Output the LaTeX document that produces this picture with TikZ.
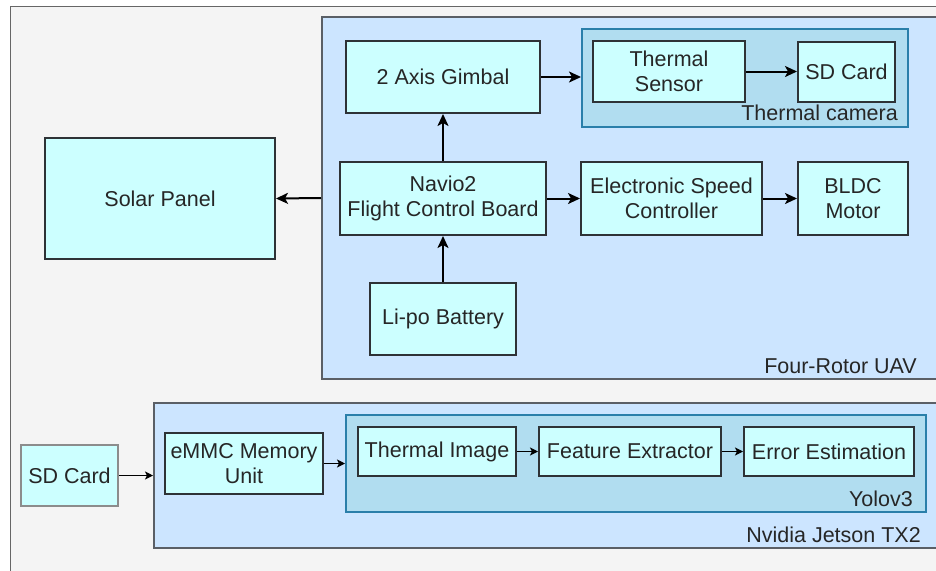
\documentclass[tikz,border=0pt]{standalone}
\usepackage{fontspec}
\setmainfont{Liberation Sans}
\usetikzlibrary{arrows.meta}
\definecolor{bgfill}{HTML}{F4F4F4}
\definecolor{bgline}{HTML}{666666}
\definecolor{grpfill}{HTML}{CCE5FF}
\definecolor{grpline}{HTML}{5A5F66}
\definecolor{subfill}{HTML}{B1DDF0}
\definecolor{subline}{HTML}{2A7FAA}
\definecolor{boxfill}{HTML}{CCFFFF}
\definecolor{boxline}{HTML}{2E3236}
\definecolor{txt}{HTML}{262626}
\definecolor{grayline}{HTML}{8C8C8C}
\begin{document}
\begin{tikzpicture}[x=1pt,y=-1pt,
  lbl/.style={font=\fontsize{21.5}{25}\selectfont, text=txt, inner sep=0pt},
  blockbox/.style={draw=boxline, fill=boxfill, line width=2pt, inner sep=0pt, align=center,
    font=\fontsize{21.5}{25}\selectfont, text=txt},
  grp/.style={draw=grpline, fill=grpfill, line width=2pt, inner sep=0pt},
  subgrp/.style={draw=subline, fill=subfill, line width=2pt, inner sep=0pt},
  bigarrow/.style={line width=2pt, draw=black, -{Stealth[length=12pt,width=11pt,inset=3pt]}},
  smallarrow/.style={line width=1.2pt, draw=black, -{Stealth[length=8pt,width=8pt,inset=2pt]}}
]
\useasboundingbox (0,0) rectangle (936,570);
\clip (0,0) rectangle (936,570);
\fill[white] (0,0) rectangle (936,570);
\draw[fill=bgfill, draw=bgline, line width=1pt] (10,6) rectangle (960,600);

% groups
\node[grp, minimum width=640pt, minimum height=362pt] (uav) at (642,198) {};
\node[grp, minimum width=806pt, minimum height=145pt] (jetson) at (557,475.5) {};
\node[subgrp, minimum width=326pt, minimum height=98pt] (tcam) at (745,78) {};
\node[subgrp, minimum width=580pt, minimum height=97pt] (yolo) at (636,463.5) {};

% group labels
\node[lbl, anchor=base east] (tcamlbl) at (898,120) {Thermal camera};
\node[lbl, anchor=base east] (uavlbl) at (917,373) {Four-Rotor UAV};
\node[lbl, anchor=base east] (yololbl) at (913,506) {Yolov3};
\node[lbl, anchor=base east] (jetsonlbl) at (921,542) {Nvidia Jetson TX2};

% UAV blocks
\node[blockbox, minimum width=152pt, minimum height=61pt] (tsensor) at (669,71.5) {Thermal\\Sensor};
\node[blockbox, minimum width=97pt, minimum height=60pt] (sdtop) at (846.5,72) {SD Card};
\node[blockbox, minimum width=194pt, minimum height=72pt] (gimbal) at (443,77) {2 Axis Gimbal};
\node[blockbox, minimum width=206pt, minimum height=73pt] (navio) at (443,198.5) {Navio2\\Flight Control Board};
\node[blockbox, minimum width=146pt, minimum height=72pt] (lipo) at (443,319) {Li-po Battery};
\node[blockbox, minimum width=181pt, minimum height=73pt] (esc) at (671.5,198.5) {Electronic Speed\\Controller};
\node[blockbox, minimum width=110pt, minimum height=73pt] (bldc) at (853,198.5) {BLDC\\Motor};
\node[blockbox, minimum width=230pt, minimum height=121pt] (solar) at (160,198.5) {Solar Panel};

% Jetson blocks
\node[blockbox, draw=grayline, minimum width=97pt, minimum height=61pt] (sdleft) at (69.5,475.5) {SD Card};
\node[blockbox, minimum width=158pt, minimum height=61pt] (emmc) at (244,463.5) {eMMC Memory\\Unit};
\node[blockbox, minimum width=158pt, minimum height=49pt] (timg) at (437,451.5) {Thermal Image};
\node[blockbox, minimum width=182pt, minimum height=49pt] (feat) at (630,451.5) {Feature Extractor};
\node[blockbox, minimum width=170pt, minimum height=49pt] (err) at (829,451.5) {Error Estimation};

% connectors (top)
\draw[bigarrow] (uav.west) -- (solar.east);
\draw[bigarrow] (gimbal.east) -- (gimbal.east -| tcam.west);
\draw[bigarrow] (navio.north) -- (gimbal.south);
\draw[bigarrow] (lipo.north) -- (navio.south);
\draw[bigarrow] (navio.east) -- (esc.west);
\draw[bigarrow] (esc.east) -- (bldc.west);
\draw[bigarrow] (tsensor.east) -- (tsensor.east -| sdtop.west);

% connectors (bottom)
\draw[smallarrow] (sdleft.east) -- (sdleft.east -| jetson.west);
\draw[smallarrow] (emmc.east) -- (emmc.east -| yolo.west);
\draw[smallarrow] (timg.east) -- (feat.west);
\draw[smallarrow] (feat.east) -- (err.west);
\end{tikzpicture}
\end{document}
